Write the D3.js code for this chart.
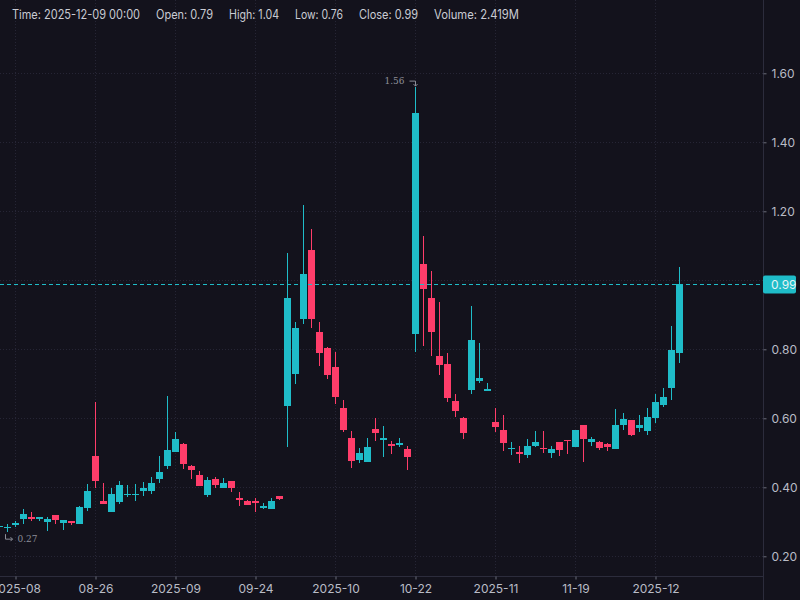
<!DOCTYPE html>
<html>
<head>
<meta charset="utf-8">
<script src="https://cdn.jsdelivr.net/npm/d3@7"></script>
<style>
  body { margin: 0; background: #13121c; }
  svg { display: block; }
</style>
</head>
<body>
<script>
// candle data, one entry per bar (oldest first)
const opens = [0.285,0.284,0.291,0.308,0.314,0.308,0.300,0.320,0.297,0.302,
  0.295,0.341,0.491,0.360,0.329,0.358,0.379,0.379,0.390,0.390,
  0.425,0.463,0.503,0.526,0.462,0.436,0.379,0.424,0.399,0.418,
  0.370,0.360,0.361,0.341,0.338,0.375,0.637,0.729,0.889,1.088,
  0.850,0.804,0.749,0.630,0.543,0.480,0.474,0.569,0.538,0.525,
  0.523,0.511,0.845,1.047,0.949,0.781,0.757,0.650,0.601,0.683,
  0.709,0.680,0.589,0.566,0.513,0.502,0.495,0.521,0.515,0.500,
  0.531,0.537,0.518,0.581,0.532,0.531,0.526,0.512,0.581,0.595,
  0.573,0.564,0.602,0.639,0.689,0.79]
const highs = [0.288,0.294,0.302,0.337,0.328,0.315,0.314,0.320,0.306,0.302,
  0.346,0.410,0.647,0.412,0.399,0.418,0.407,0.410,0.415,0.430,
  0.491,0.665,0.560,0.529,0.465,0.447,0.430,0.430,0.427,0.418,
  0.387,0.363,0.369,0.355,0.369,0.375,1.079,0.879,1.218,1.149,
  0.879,0.807,0.792,0.653,0.563,0.514,0.543,0.601,0.578,0.534,
  0.543,0.520,1.56,1.129,1.027,0.937,0.789,0.670,0.605,0.926,
  0.818,0.703,0.630,0.610,0.532,0.520,0.540,0.563,0.563,0.520,
  0.531,0.537,0.566,0.581,0.546,0.534,0.528,0.627,0.615,0.595,
  0.610,0.630,0.670,0.688,0.868,1.04]
const lows = [0.284,0.27,0.286,0.295,0.303,0.303,0.272,0.295,0.277,0.292,
  0.295,0.332,0.399,0.352,0.329,0.352,0.373,0.361,0.376,0.381,
  0.413,0.454,0.503,0.454,0.425,0.405,0.373,0.399,0.399,0.387,
  0.347,0.349,0.329,0.338,0.338,0.364,0.518,0.700,0.874,0.863,
  0.753,0.715,0.642,0.561,0.457,0.471,0.474,0.535,0.489,0.497,
  0.518,0.451,0.793,0.810,0.781,0.726,0.648,0.605,0.541,0.671,
  0.703,0.680,0.561,0.506,0.495,0.471,0.486,0.518,0.500,0.486,
  0.492,0.497,0.518,0.474,0.521,0.509,0.506,0.512,0.567,0.550,
  0.561,0.553,0.587,0.634,0.654,0.76]
const closes = [0.287,0.286,0.297,0.323,0.308,0.314,0.308,0.306,0.305,0.297,
  0.343,0.389,0.419,0.353,0.381,0.407,0.381,0.381,0.398,0.412,
  0.444,0.508,0.540,0.468,0.451,0.405,0.421,0.408,0.412,0.399,
  0.364,0.349,0.355,0.347,0.360,0.367,0.949,0.862,1.018,0.889,
  0.790,0.726,0.663,0.567,0.477,0.499,0.517,0.558,0.543,0.521,
  0.528,0.489,1.485,0.976,0.851,0.755,0.660,0.622,0.558,0.827,
  0.717,0.686,0.576,0.529,0.515,0.497,0.520,0.531,0.513,0.511,
  0.509,0.534,0.566,0.541,0.540,0.515,0.518,0.581,0.598,0.553,
  0.581,0.604,0.647,0.662,0.798,0.99]

// time axis labels sit on these bars
const tickIdx = [2, 12, 22, 32, 42, 52, 62, 72, 82]
const tickLabels = ['2025-08','08-26','2025-09','09-24','2025-10','10-22','2025-11','11-19','2025-12']
const priceTicks = [0.2, 0.4, 0.6, 0.8, 1.0, 1.2, 1.4, 1.6]

const lastVolume = '2.419M'
const lastTime = '2025-12-09 00:00'

let width = 800
let height = 600
let plotRight = 763
let plotBottom = 576

let up = '#1fbcc8'
let down = '#ff3d6a'
let textColor = '#b9bcc6'
let gridColor = '#262535'

let n = opens.length

let xScale = d3.scaleLinear()
    .domain([0, n - 1])
    .range([-0.5, 679.5])

let yScale = d3.scaleLinear()
    .domain([0.2, 1.6])
    .range([556.3, 73.3])

let svg = d3.select('body')
    .append('svg')
    .attr('width', width)
    .attr('height', height)
    .style('font-family', 'Inter, "Noto Sans", sans-serif')

svg.append('rect')
    .attr('width', width)
    .attr('height', height)
    .attr('fill', '#13121c')

// grid
svg.append('g')
    .selectAll('line')
    .data(priceTicks)
    .enter()
    .append('line')
    .attr('x1', 0)
    .attr('x2', plotRight)
    .attr('y1', d => Math.round(yScale(d)) + 0.5)
    .attr('y2', d => Math.round(yScale(d)) + 0.5)
    .attr('stroke', gridColor)
    .attr('stroke-dasharray', '1,2')

svg.append('g')
    .selectAll('line')
    .data(tickIdx)
    .enter()
    .append('line')
    .attr('x1', d => xScale(d))
    .attr('x2', d => xScale(d))
    .attr('y1', 0)
    .attr('y2', plotBottom)
    .attr('stroke', gridColor)
    .attr('stroke-dasharray', '1,2')

// candles
let candles = svg.append('g')
    .selectAll('g')
    .data(d3.range(n))
    .enter()
    .append('g')
    .attr('fill', i => closes[i] >= opens[i] ? up : down)

candles.append('rect')
    .attr('x', i => xScale(i) - 0.5)
    .attr('width', 1)
    .attr('y', i => Math.round(yScale(highs[i])))
    .attr('height', i => Math.max(1, Math.round(yScale(lows[i])) - Math.round(yScale(highs[i]))))

candles.append('rect')
    .attr('x', i => xScale(i) - 3.5)
    .attr('width', 7)
    .attr('y', i => Math.round(yScale(Math.max(opens[i], closes[i]))))
    .attr('height', i => Math.max(1, Math.round(yScale(Math.min(opens[i], closes[i]))) - Math.round(yScale(Math.max(opens[i], closes[i])))))

// high / low markers
let hiIdx = d3.maxIndex(highs)
let loIdx = d3.minIndex(lows)
let hx = xScale(hiIdx)
let hy = yScale(highs[hiIdx])
svg.append('text')
    .attr('x', hx - 11)
    .attr('y', hy - 3)
    .attr('text-anchor', 'end')
    .attr('fill', '#8c8e98')
    .style('font-family', '"DejaVu Serif", serif')
    .style('font-size', '9px')
    .text(highs[hiIdx].toFixed(2))
svg.append('path')
    .attr('d', `M${hx - 6},${hy - 6} H${hx} V${hy - 1} M${hx - 2},${hy - 3} L${hx},${hy - 1} L${hx + 2},${hy - 3}`)
    .attr('fill', 'none')
    .attr('stroke', '#8c8e98')
    .attr('stroke-width', 1)

let lx = xScale(loIdx)
let ly = yScale(lows[loIdx])
svg.append('path')
    .attr('d', `M${lx - 2},${ly + 2} V${ly + 7} H${lx + 5} M${lx + 3},${ly + 5} L${lx + 5},${ly + 7} L${lx + 3},${ly + 9}`)
    .attr('fill', 'none')
    .attr('stroke', '#8c8e98')
    .attr('stroke-width', 1)
svg.append('text')
    .attr('x', lx + 10)
    .attr('y', ly + 10)
    .attr('fill', '#8c8e98')
    .style('font-family', '"DejaVu Serif", serif')
    .style('font-size', '9px')
    .text(lows[loIdx].toFixed(2))

// axes
let yAxis = d3.axisRight(yScale)
    .tickValues(priceTicks.filter(d => d !== 1.0))
    .tickFormat(d3.format('.2f'))
    .tickSize(3)
    .tickPadding(5)

let yG = svg.append('g')
    .attr('transform', 'translate(' + (plotRight + 0.5) + ',0)')
    .call(yAxis)
yG.select('.domain').attr('stroke', '#2c2c3c').attr('d', `M0,0V${height}`)
yG.selectAll('.tick line').attr('stroke', '#6b6d78')
yG.selectAll('.tick text').attr('fill', textColor).style('font-size', '12px').style('font-family', 'Inter, sans-serif')

let xAxisScale = d3.scaleOrdinal()
    .domain(tickIdx)
    .range(tickIdx.map(d => xScale(d)))

let xAxis = d3.axisBottom(xAxisScale)
    .tickFormat((d, i) => tickLabels[i])
    .tickSize(3)
    .tickPadding(5)

let xG = svg.append('g')
    .attr('transform', 'translate(0,' + (plotBottom + 0.5) + ')')
    .call(xAxis)
xG.select('.domain').attr('stroke', '#2c2c3c').attr('d', `M0,0H${plotRight}`)
xG.selectAll('.tick line').attr('stroke', '#6b6d78')
xG.selectAll('.tick text').attr('fill', textColor).style('font-size', '12px').style('font-family', 'Inter, sans-serif')

// last price line + label
let last = n - 1
let py = Math.round(yScale(closes[last])) + 0.5
svg.append('line')
    .attr('x1', 0)
    .attr('x2', plotRight)
    .attr('y1', py)
    .attr('y2', py)
    .attr('stroke', up)
    .attr('stroke-dasharray', '4,3')

svg.append('rect')
    .attr('x', plotRight)
    .attr('y', py - 9)
    .attr('width', 33)
    .attr('height', 18)
    .attr('rx', 2)
    .attr('fill', up)
svg.append('text')
    .attr('x', plotRight + 8)
    .attr('y', py + 4)
    .attr('fill', '#e6f4f6')
    .style('font-size', '12px')
    .text(closes[last].toFixed(2))

// legend
let legendItems = [
    'Time: ' + lastTime,
    'Open: ' + opens[last].toFixed(2),
    'High: ' + highs[last].toFixed(2),
    'Low: ' + lows[last].toFixed(2),
    'Close: ' + closes[last].toFixed(2),
    'Volume: ' + lastVolume
]
let legendX = [12, 156, 229, 295, 359, 434]
let legendW = [128, 57, 50, 48, 59, 85]
svg.append('g')
    .selectAll('text')
    .data(legendItems)
    .enter()
    .append('text')
    .attr('x', (d, i) => legendX[i])
    .attr('y', 19)
    .attr('textLength', (d, i) => legendW[i])
    .attr('lengthAdjust', 'spacingAndGlyphs')
    .attr('fill', '#c9cbd3')
    .style('font-size', '12.5px')
    .text(d => d)
</script>
</body>
</html>
